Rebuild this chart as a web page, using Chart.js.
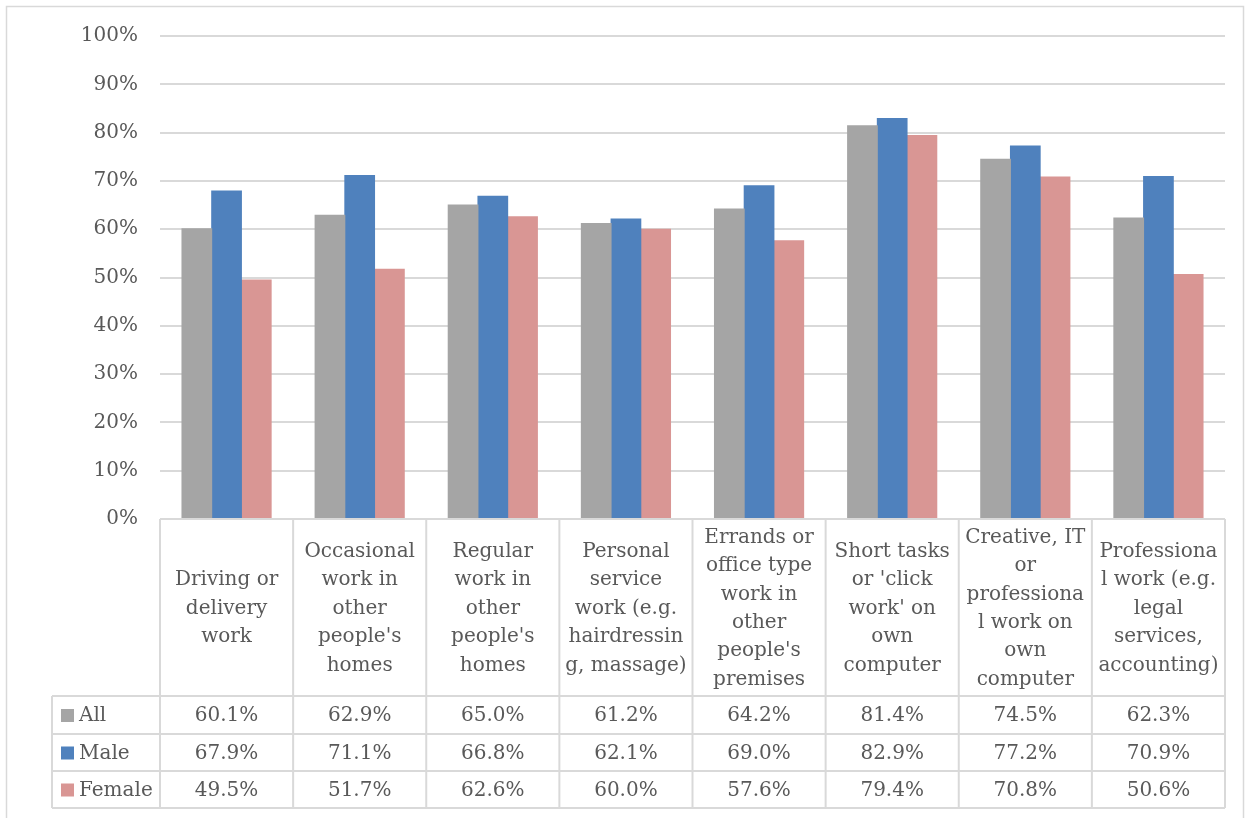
<!DOCTYPE html>
<html>
<head>
<meta charset="utf-8">
<script src="https://cdn.jsdelivr.net/npm/chart.js@4.4.0/dist/chart.umd.min.js"></script>
<style>
  html, body { margin: 0; padding: 0; background: #fff; }
</style>
</head>
<body>
<canvas id="gigChart" width="1250" height="818"></canvas>
<script>
/* Data */
const categories = [
    ['Driving or', 'delivery', 'work'],
    ['Occasional', 'work in', 'other', "people's", 'homes'],
    ['Regular', 'work in', 'other', "people's", 'homes'],
    ['Personal', 'service', 'work (e.g.', 'hairdressin', 'g, massage)'],
    ['Errands or', 'office type', 'work in', 'other', "people's", 'premises'],
    ['Short tasks', "or 'click", "work' on", 'own', 'computer'],
    ['Creative, IT', 'or', 'professiona', 'l work on', 'own', 'computer'],
    ['Professiona', 'l work (e.g.', 'legal', 'services,', 'accounting)']
];
const seriesNames = ['All', 'Male', 'Female'];
const allValues = [60.1, 62.9, 65.0, 61.2, 64.2, 81.4, 74.5, 62.3];
const maleValues = [67.9, 71.1, 66.8, 62.1, 69.0, 82.9, 77.2, 70.9];
const femaleValues = [49.5, 51.7, 62.6, 60.0, 57.6, 79.4, 70.8, 50.6];

const colors = ['#a5a5a5', '#4f81bd', '#d99694'];
const textColor = '#595959';
const lineColor = '#d9d9d9';
const fontFamily = "'DejaVu Serif', serif";

/* Data table drawn under the plot */
const dataTable = {
    id: 'dataTable',
    afterDraw(chart) {
        const ctx = chart.ctx;
        const area = chart.chartArea;
        const xs = chart.scales.x;
        const colW = (area.right - area.left) / categories.length;
        const headTop = area.bottom;
        const rowTops = [696, 734, 771];
        const tableBottom = 808;
        const legendLeft = 52;

        ctx.save();
        // chart outer border
        ctx.strokeStyle = lineColor;
        ctx.lineWidth = 1.5;
        ctx.strokeRect(6.5, 6.5, 1237, 830);

        ctx.lineWidth = 2;
        ctx.beginPath();
        for (let i = 0; i <= categories.length; i++) {
            const x = area.left + i * colW;
            ctx.moveTo(x, headTop);
            ctx.lineTo(x, tableBottom);
        }
        ctx.moveTo(legendLeft, rowTops[0]);
        ctx.lineTo(legendLeft, tableBottom);
        rowTops.concat([tableBottom]).forEach(function(y) {
            ctx.moveTo(legendLeft, y);
            ctx.lineTo(area.right, y);
        });
        ctx.moveTo(area.left, headTop);
        ctx.lineTo(area.right, headTop);
        ctx.stroke();

        ctx.fillStyle = textColor;
        ctx.font = '20px ' + fontFamily;
        ctx.textAlign = 'center';
        ctx.textBaseline = 'middle';

        // header labels
        const lineH = 28.4;
        const headMid = (headTop + rowTops[0]) / 2 + 1;
        categories.forEach(function(lines, i) {
            const cx = xs.getPixelForValue(i);
            const start = headMid - (lines.length - 1) * lineH / 2;
            lines.forEach(function(t, j) {
                ctx.fillText(t, cx, start + j * lineH);
            });
        });

        // value rows
        const rows = [allValues, maleValues, femaleValues];
        rows.forEach(function(vals, r) {
            const top = rowTops[r];
            const bottom = r < 2 ? rowTops[r + 1] : tableBottom;
            const cy = (top + bottom) / 2 + 1;
            ctx.textAlign = 'center';
            ctx.fillStyle = textColor;
            vals.forEach(function(v, i) {
                ctx.fillText(v.toFixed(1) + '%', xs.getPixelForValue(i), cy);
            });
            ctx.fillStyle = colors[r];
            ctx.fillRect(61, cy - 7, 13, 13);
            ctx.fillStyle = textColor;
            ctx.textAlign = 'left';
            ctx.fillText(seriesNames[r], 79, cy);
        });
        ctx.restore();
    }
};

const config = {
    type: 'bar',
    data: {
        labels: categories.map(function(c) { return c.join(' '); }),
        datasets: [
            { label: seriesNames[0], data: allValues, backgroundColor: colors[0] },
            { label: seriesNames[1], data: maleValues, backgroundColor: colors[1] },
            { label: seriesNames[2], data: femaleValues, backgroundColor: colors[2] }
        ]
    },
    options: {
        responsive: false,
        animation: false,
        layout: {
            padding: { left: 6, top: 36, right: 25, bottom: 299 }
        },
        datasets: {
            bar: { barPercentage: 1, categoryPercentage: 0.67, inflateAmount: 0.5 }
        },
        plugins: {
            legend: { display: false },
            tooltip: { enabled: false }
        },
        scales: {
            x: {
                display: false
            },
            y: {
                min: 0,
                max: 100,
                afterFit: function(scale) { scale.width = 154; },
                border: { display: false },
                grid: { color: lineColor, lineWidth: 2, drawTicks: false },
                ticks: {
                    stepSize: 10,
                    padding: 22,
                    color: textColor,
                    font: { family: fontFamily, size: 20 },
                    callback: function(v) { return v + '%'; }
                }
            }
        }
    },
    plugins: [dataTable]
};

var ctx = document.getElementById('gigChart').getContext('2d');
window.gigChart = new Chart(ctx, config);
</script>
</body>
</html>
